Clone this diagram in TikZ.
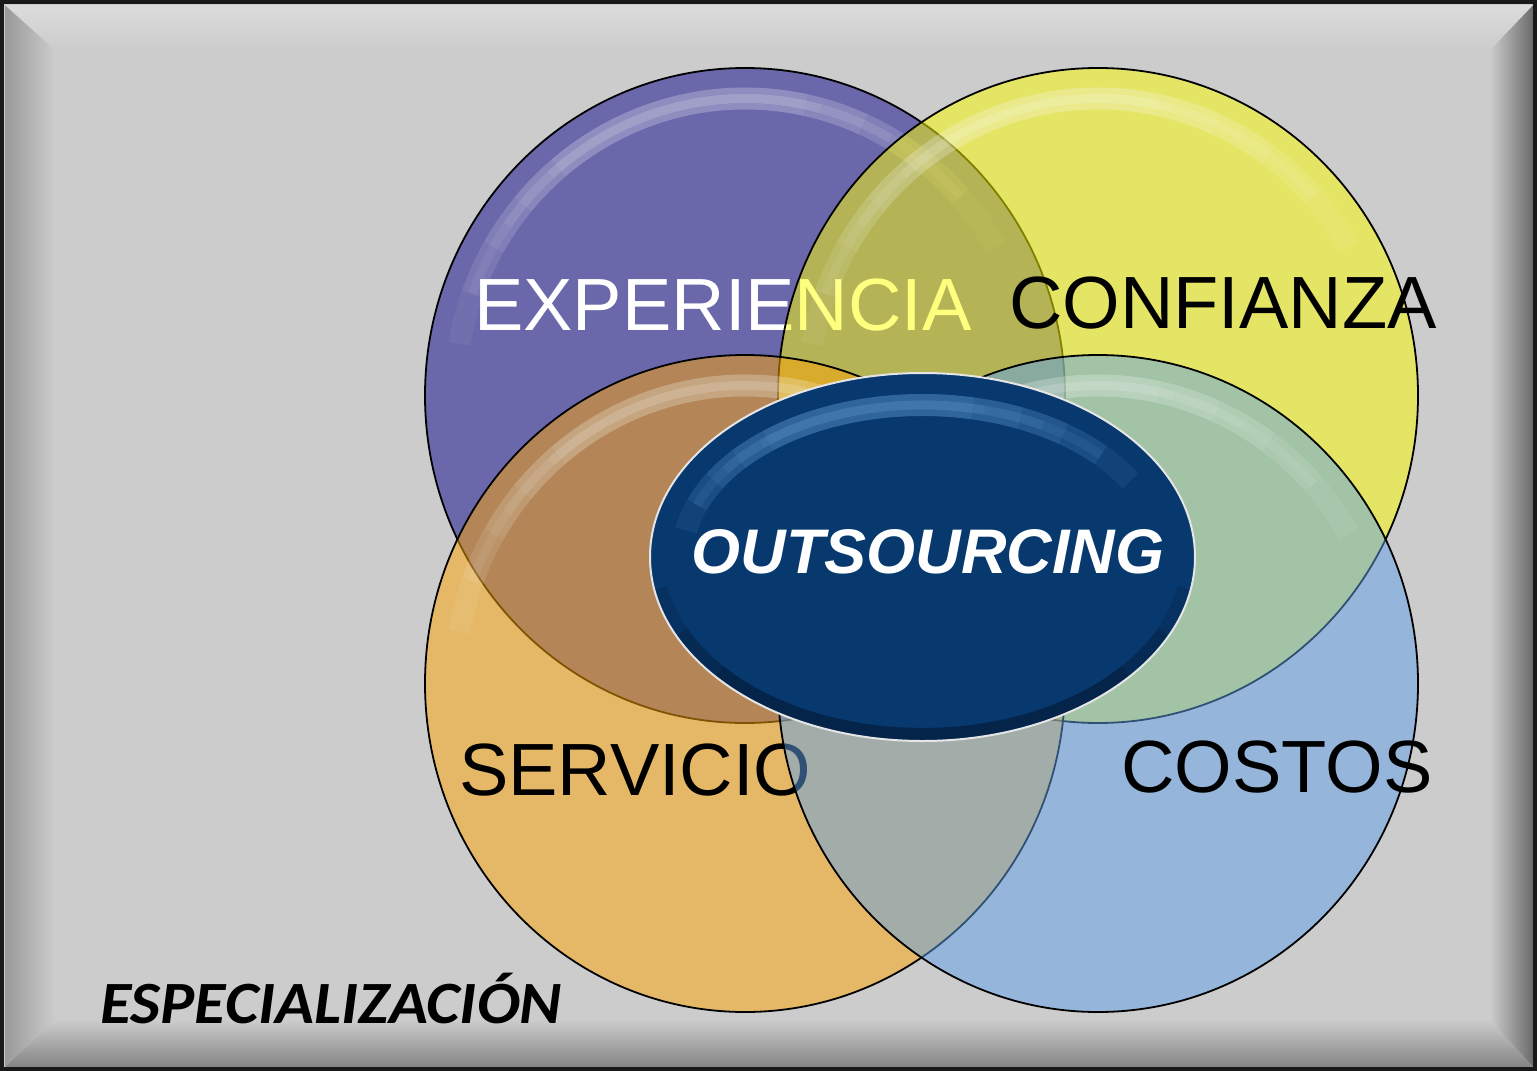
\documentclass[tikz,border=0pt]{standalone}
\usepackage{fontspec}
\usepackage{graphicx}
\setmainfont{Liberation Sans}
\newfontfamily\carlito{Carlito}
\usetikzlibrary{shapes.geometric,calc}
\definecolor{bgray}{HTML}{CCCCCC}
\definecolor{vpurple}{HTML}{6A67AB}
\definecolor{vyellow}{RGB}{255,255,0}
\definecolor{vorange}{RGB}{255,165,5}
\definecolor{vblue}{RGB}{96,162,232}
\definecolor{navy}{HTML}{07386E}
\definecolor{navyhl}{HTML}{6AA0D8}
\newcommand\glint[6]{%
  \foreach \ga/\gb in {190/330,200/318,210/306,220/294,230/282}
    \draw[#5, line width=22pt, opacity=#6]
      (#1,#2) ++(\ga:#3 and #4) arc[start angle=\ga, end angle=\gb, x radius=#3, y radius=#4];
  \foreach \ga/\gb in {200/318,215/300,228/285}
    \draw[#5, line width=9pt, opacity=#6]
      (#1,#2) ++(\ga:#3 and #4) arc[start angle=\ga, end angle=\gb, x radius=#3, y radius=#4];}
\begin{document}
\begin{tikzpicture}[x=1pt,y=-1pt,
  venn/.style={ellipse, draw=black, line width=1.8pt, inner sep=0pt, outer sep=0pt,
    minimum width=640pt, minimum height=655pt},
  lbl/.style={anchor=base west, inner sep=0pt, font=\fontsize{74}{74}\selectfont}]
\useasboundingbox (0,0) rectangle (1537,1071);
% frame
\fill[bgray] (0,0) rectangle (1537,1071);
\shade[left color=black!40, middle color=black!16, right color=bgray]
  (5,5) -- (55,50) -- (55,1020) -- (5,1067) -- cycle;
\shade[left color=bgray, middle color=black!32, right color=black!58]
  (1533,5) -- (1490,50) -- (1490,1020) -- (1533,1067) -- cycle;
\shade[top color=black!14, middle color=white, bottom color=bgray]
  (5,5) -- (1533,5) -- (1490,50) -- (55,50) -- cycle;
\shade[top color=bgray, middle color=black!26, bottom color=black!48]
  (5,1067) -- (1533,1067) -- (1490,1020) -- (55,1020) -- cycle;
\draw[black!90, line width=4pt] (2,2) rectangle (1535,1069);

% circles
\node[venn, fill=vpurple] (cexp) at (745,395.5) {};
\glint{745}{395.5}{290}{297}{white}{0.06}
\node[lbl, text=white] (texp) at (474,330) {EXPERIENCIA};

\node[venn, fill=vyellow, fill opacity=0.5] (cconf) at (1098,395.5) {};
\glint{1098}{395.5}{290}{297}{white}{0.06}
\node[lbl, text=black] (tconf) at (1009,328) {CONFIANZA};

\node[venn, fill=vorange, fill opacity=0.5, minimum height=657pt] (cserv) at (745,683.5) {};
\glint{745}{683.5}{290}{298}{white}{0.06}
\node[lbl, text=black] (tserv) at (459,795) {SERVICIO};

\node[venn, fill=vblue, fill opacity=0.5, minimum height=657pt] (ccost) at (1098,683.5) {};
\glint{1098}{683.5}{290}{298}{white}{0.06}
\node[lbl, text=black] (tcost) at (1121,792) {COSTOS};

% central ellipse
\node[ellipse, fill=navy, inner sep=0pt, outer sep=0pt, minimum width=545pt, minimum height=368pt] (out) at (922.5,557) {};
\glint{922.5}{557}{240}{152}{navyhl}{0.11}
\foreach \ga/\gb in {10/170,25/155,40/140}
  \draw[black, line width=12pt, opacity=0.12]
    (922.5,557) ++(\ga:265 and 177) arc[start angle=\ga, end angle=\gb, x radius=265, y radius=177];
\draw[black!10, line width=2pt] (out.center) ellipse [x radius=272.5, y radius=184];
\node[anchor=base, inner sep=0pt, text=white, font=\bfseries\itshape\fontsize{63}{63}\selectfont] (tout) at (928,573) {OUTSOURCING};

% corner label
\node[anchor=base west, inner sep=0pt, font=\carlito\bfseries\itshape\fontsize{60}{60}\selectfont] (tesp) at (100,1023) {\scalebox{1.07}[1]{ESPECIALIZACIÓN}};
\end{tikzpicture}
\end{document}
